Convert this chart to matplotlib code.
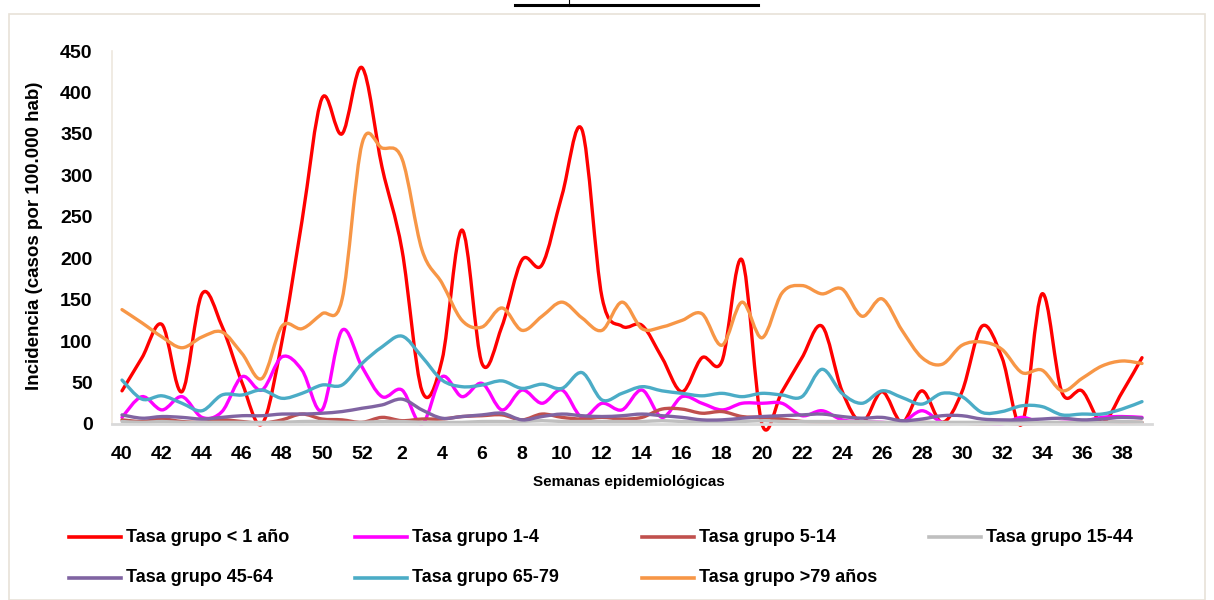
import numpy as np
import matplotlib.pyplot as plt
from matplotlib.path import Path
from matplotlib.patches import PathPatch, Rectangle
from matplotlib.lines import Line2D

#%% datos
semanas = list(range(40, 53)) + list(range(1, 40))

tasa_menor1 = [40, 80, 120, 39, 157, 118, 50, 0, 100, 245, 393, 350, 430,
               310, 210, 40, 77, 234, 73, 118, 198, 192, 276,
               355, 153, 118, 119, 80, 39, 80, 76, 198, 0,
               39, 80, 118, 40, 2, 39, 2, 40, 2, 39,
               118, 80, 0, 157, 38, 40, 2, 38, 80]
tasa_1_4 = [8, 33, 17, 33, 8, 15, 57, 41, 81, 65, 17, 113, 69,
            33, 41, 0, 57, 33, 49, 17, 41, 25, 41,
            8, 25, 17, 41, 8, 33, 25, 17, 25, 25,
            25, 10, 16, 5, 3, 2, 2, 16, 2, 1,
            1, 0, 8, 1, 2, 3, 8, 9, 8]
tasa_5_14 = [5, 3, 6, 3, 2, 5, 3, 1, 5, 12, 6, 5, 2,
             8, 4, 6, 6, 9, 10, 11, 5, 12, 8,
             6, 8, 6, 8, 18, 18, 13, 15, 9, 8,
             6, 3, 2, 2, 1, 1, 1, 2, 1, 1,
             0, 1, 0, 1, 1, 1, 2, 2, 2]
tasa_15_44 = [3, 2, 3, 2, 2, 2, 2, 2, 2, 3, 3, 2, 2,
              3, 3, 2, 2, 2, 3, 3, 3, 4, 3,
              3, 3, 3, 3, 4, 3, 3, 3, 3, 4,
              3, 3, 3, 3, 3, 2, 2, 2, 2, 2,
              2, 2, 2, 2, 2, 2, 2, 3, 2]
tasa_45_64 = [11, 7, 9, 8, 6, 8, 10, 10, 12, 12, 13, 15, 19,
              23, 30, 17, 7, 9, 11, 13, 5, 9, 12,
              10, 9, 10, 12, 10, 8, 5, 5, 7, 9,
              10, 11, 12, 9, 7, 8, 4, 6, 10, 10,
              6, 5, 5, 6, 7, 5, 6, 8, 7]
tasa_65_79 = [53, 30, 34, 25, 16, 35, 35, 41, 31, 37, 47, 47, 73,
              93, 106, 81, 53, 45, 47, 52, 43, 48, 43,
              62, 29, 37, 45, 40, 37, 34, 37, 33, 37,
              35, 33, 66, 37, 25, 40, 32, 24, 37, 33,
              14, 15, 22, 21, 11, 12, 12, 18, 27]
tasa_mayor79 = [138, 122, 105, 92, 105, 111, 85, 55, 118, 115, 133, 150, 338,
                333, 320, 210, 170, 125, 117, 140, 113, 130, 147,
                128, 113, 147, 115, 117, 125, 133, 95, 147, 104,
                158, 167, 157, 163, 130, 151, 113, 80, 72, 95,
                99, 90, 62, 65, 40, 55, 70, 76, 73]

series = [tasa_menor1, tasa_1_4, tasa_5_14, tasa_15_44,
          tasa_45_64, tasa_65_79, tasa_mayor79]
nombres = ['Tasa grupo < 1 año', 'Tasa grupo 1-4', 'Tasa grupo 5-14',
           'Tasa grupo 15-44', 'Tasa grupo 45-64', 'Tasa grupo 65-79',
           'Tasa grupo >79 años']
colores = ['#FF0000', '#FF00FF', '#C0504D', '#BFBFBF',
           '#8064A2', '#4BACC6', '#F79646']


def curva_suave(x, y):
    # linea suavizada tipo Excel (bezier cubica por los puntos)
    p = np.column_stack([x, y]).astype(float)
    n = len(p)
    verts = [p[0]]
    codes = [Path.MOVETO]
    for i in range(n - 1):
        p0 = p[i - 1] if i > 0 else p[i]
        p3 = p[i + 2] if i + 2 < n else p[i + 1]
        c1 = p[i] + (p[i + 1] - p0) / 6.0
        c2 = p[i + 1] - (p3 - p[i]) / 6.0
        verts += [c1, c2, p[i + 1]]
        codes += [Path.CURVE4] * 3
    return Path(verts, codes)


#%% figura
W, H = 1214, 600
plt.rcParams['font.family'] = ['Liberation Sans', 'DejaVu Sans']
plt.rcParams['font.weight'] = 'bold'
fig = plt.figure(figsize=(W / 100, H / 100), dpi=100)


def fx(px):
    return px / W


def fy(py):
    return 1 - py / H


# marco del grafico
fig.add_artist(Rectangle((fx(9), fy(600)), fx(1205) - fx(9), fy(14) - fy(600),
                         transform=fig.transFigure, fill=False,
                         edgecolor='#E8E2D8', lw=1.2))
# subrayado del titulo
fig.add_artist(Line2D([fx(515), fx(758)], [fy(4.5), fy(4.5)],
                      transform=fig.transFigure, color='black', lw=2.2))
fig.add_artist(Line2D([fx(569), fx(569)], [fy(0), fy(6)],
                      transform=fig.transFigure, color='black', lw=0.8))

ax = fig.add_axes([fx(112), fy(424), fx(1152) - fx(112), fy(51) - fy(424)])
x = np.arange(len(semanas))

for datos, c in zip(series, colores):
    ax.add_patch(PathPatch(curva_suave(x, datos), fill=False, edgecolor=c,
                           lw=2.4, capstyle='round', joinstyle='round',
                           clip_on=False))

ax.set_xlim(-0.5, len(semanas) - 0.5)
ax.set_ylim(0, 450)
ax.set_yticks(np.arange(0, 451, 50))
ax.set_xticks(x[::2])
ax.set_xticklabels([str(s) for s in semanas[::2]])
ax.tick_params(axis='both', length=0, labelsize=14)
ax.tick_params(axis='x', pad=16)
ax.tick_params(axis='y', pad=14)

for s in ['top', 'right']:
    ax.spines[s].set_visible(False)
ax.spines['bottom'].set_color('#D9D9D9')
ax.spines['bottom'].set_linewidth(2)
ax.spines['left'].set_color('#EEE8DE')
ax.spines['left'].set_linewidth(1.2)

fig.text(fx(35), fy(236), 'Incidencia (casos por 100.000 hab)', rotation=90,
         ha='center', va='center', fontsize=13.5, fontweight='bold')
fig.text(fx(629), fy(482), 'Semanas epidemiológicas', ha='center',
         va='center', fontsize=11, fontweight='bold')

# leyenda en dos filas
col_x = [69, 355, 642, 929]
fila_y = [537, 578]
for k, (nom, c) in enumerate(zip(nombres, colores)):
    px = col_x[k % 4]
    py = fila_y[k // 4]
    fig.add_artist(Line2D([fx(px), fx(px + 52)], [fy(py), fy(py)],
                          transform=fig.transFigure, color=c, lw=2.6))
    fig.text(fx(px + 57), fy(py), nom, ha='left', va='center',
             fontsize=13, fontweight='bold')

fig.savefig('out.png', dpi=100)
